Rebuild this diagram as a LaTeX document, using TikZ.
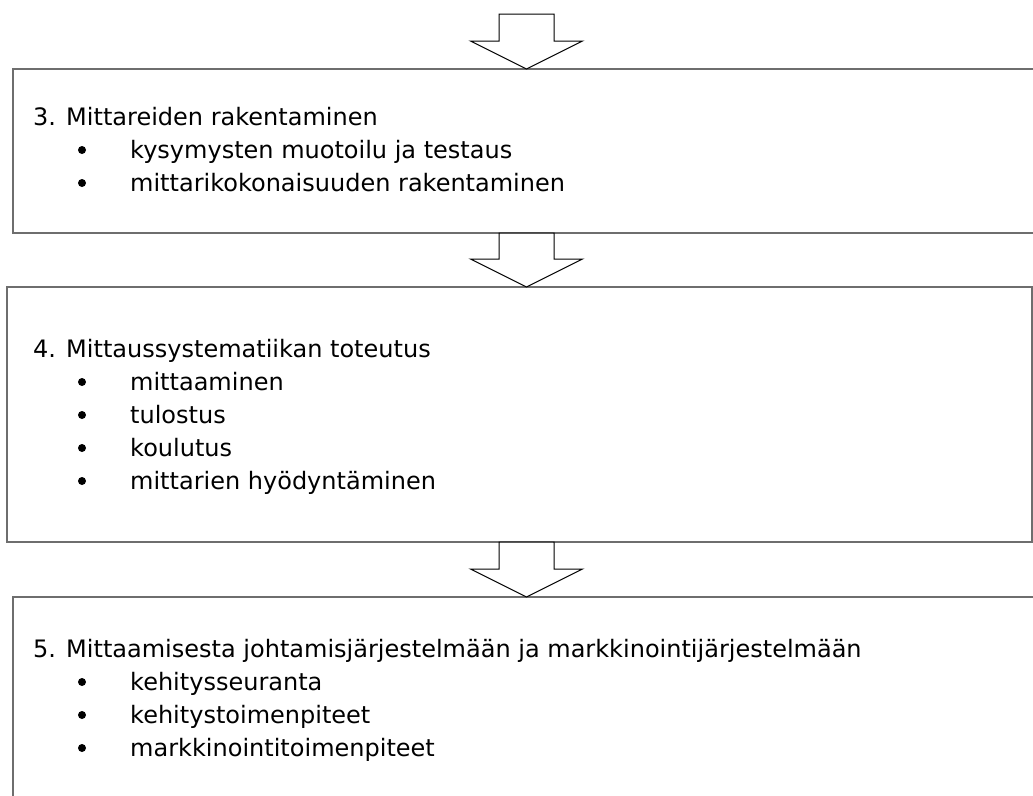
\documentclass[tikz,border=0pt]{standalone}
\usepackage{fontspec}
\setmainfont{DejaVu Sans}
\usetikzlibrary{calc}
\definecolor{boxline}{HTML}{6E6E6E}
\tikzset{
  stagebox/.style={draw=boxline, line width=1.5pt, rectangle, anchor=north west,
    inner sep=0pt, outer sep=0pt},
  heading/.style={anchor=base west, inner sep=0pt, font=\fontsize{24}{33}\selectfont},
  itemtext/.style={anchor=base west, inner sep=0pt, font=\fontsize{24}{33}\selectfont},
  bulletdot/.style={circle, fill=black, inner sep=0pt, minimum size=8pt},
  flowarrow/.style={draw=black, line width=1pt, fill=white, line join=miter}
}
\def\SW{27.5}  % stem half-width
\def\HW{56}    % head half-width
\def\HL{28}    % head length
\newcommand{\blockarrow}[2]{%
  \draw[flowarrow] ($(#1)+(-\SW,0)$) -- ($(#1)+(\SW,0)$) -- ($(#2)+(\SW,-\HL)$)
    -- ($(#2)+(\HW,-\HL)$) -- (#2) -- ($(#2)+(-\HW,-\HL)$) -- ($(#2)+(-\SW,-\HL)$) -- cycle;}

\begin{document}
\begin{tikzpicture}[x=1pt, y=-1pt]

\useasboundingbox (0,0) rectangle (1033,795);
\clip (0,0) rectangle (1033,795);

%--- Stage boxes ---
\node[stagebox, minimum width=1021pt, minimum height=164pt] (box3) at (13,69)  {};
\node[stagebox, minimum width=1025pt, minimum height=255pt] (box4) at (7,287)  {};
\node[stagebox, minimum width=1021pt, minimum height=240pt] (box5) at (13,597) {};

%--- Texts ---
\node[heading] (head3) at (33,125) {3. Mittareiden rakentaminen};
\foreach \t [count=\i] in {kysymysten muotoilu ja testaus,
    mittarikokonaisuuden rakentaminen} {
  \node[bulletdot] (dot3-\i) at (82,125+33*\i-8) {};
  \node[itemtext]  (item3-\i) at (130,125+33*\i) {\t};
}

\node[heading] (head4) at (33,357) {4. Mittaussystematiikan toteutus};
\foreach \t [count=\i] in {mittaaminen, tulostus, koulutus,
    mittarien hyödyntäminen} {
  \node[bulletdot] (dot4-\i) at (82,357+33*\i-8) {};
  \node[itemtext]  (item4-\i) at (130,357+33*\i) {\t};
}

\node[heading] (head5) at (33,657)
  {5. Mittaamisesta johtamisjärjestelmään ja markkinointijärjestelmään};
\foreach \t [count=\i] in {kehitysseuranta, kehitystoimenpiteet,
    markkinointitoimenpiteet} {
  \node[bulletdot] (dot5-\i) at (82,657+33*\i-8) {};
  \node[itemtext]  (item5-\i) at (130,657+33*\i) {\t};
}

%--- Block arrows ---
\coordinate (axis)  at (526.5,0);
\coordinate (start) at (526.5,14);
\blockarrow{start}{axis |- box3.north}
\blockarrow{axis |- box3.south}{axis |- box4.north}
\blockarrow{axis |- box4.south}{axis |- box5.north}

\end{tikzpicture}
\end{document}
